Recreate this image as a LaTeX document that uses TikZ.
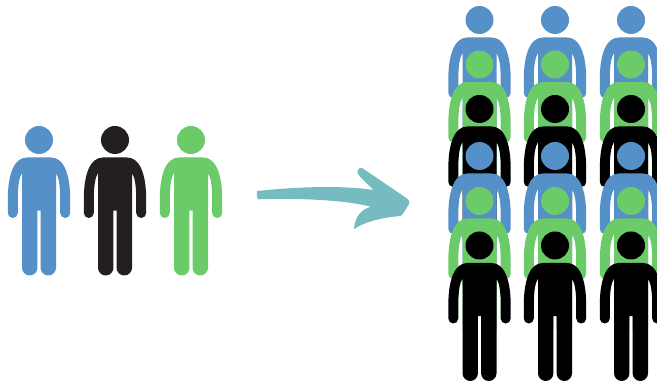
\documentclass[tikz,border=0pt]{standalone}
\usepackage{tikz}
\definecolor{personblue}{HTML}{5590C8}
\definecolor{persongreen}{HTML}{6BCB69}
\definecolor{persondark}{HTML}{231F20}
\definecolor{arrowteal}{HTML}{76BBBF}
\tikzset{
    pics/person/.style={code={
        \fill[#1] (0,0) circle (14);
        \fill[#1] (-12,-17.5) -- (12,-17.5)
            .. controls (24,-17.5) and (31.2,-32) .. (31.2,-60)
            -- (31.2,-73) arc[start angle=0, end angle=-180, radius=5]
            -- (21.2,-60) .. controls (21.2,-46) and (20,-38) .. (17,-33)
            -- (17,-127.8) arc[start angle=0, end angle=-180, radius=7.7]
            -- (1.6,-70.7) -- (-1.6,-70.7)
            -- (-1.6,-127.8) arc[start angle=0, end angle=-180, radius=7.7]
            -- (-17,-33) .. controls (-20,-38) and (-21.2,-46) .. (-21.2,-60)
            -- (-21.2,-73) arc[start angle=0, end angle=-180, radius=5]
            -- (-31.2,-60) .. controls (-31.2,-32) and (-24,-17.5) .. (-12,-17.5) -- cycle;
    }}
}
\begin{document}
\begin{tikzpicture}[x=0.75pt, y=0.75pt]
    \useasboundingbox (0,0) rectangle (657,384);
    \clip (0,0) rectangle (657,384);

    \pic at (39,244) {person=personblue};
    \pic at (115,244) {person=persondark};
    \pic at (191,244) {person=persongreen};

    \foreach \colx in {479.5,555,631} {
        \foreach \rowy/\rowcol in {364/personblue,319.5/persongreen,275/black,228/personblue,183/persongreen,138.5/black} {
            \pic at (\colx,\rowy) {person=\rowcol};
        }
    }

    \fill[arrowteal] (257.3,193)
        .. controls (295,197) and (340,199) .. (373.3,194)
        -- (360,207.3) .. controls (356,211) and (357,216) .. (361.7,216.3)
        -- (406.7,185.7) .. controls (409.5,183.5) and (410,181.5) .. (409,180)
        -- (403.3,170.7) .. controls (402,168.5) and (401,168) .. (400,168)
        .. controls (380,166) and (364,162) .. (354,154.7)
        .. controls (355,168) and (361,174) .. (370.7,177.3)
        .. controls (345,184) and (300,186) .. (258.3,184.7)
        .. controls (256.5,186) and (256.5,191) .. (257.3,193) -- cycle;
\end{tikzpicture}
\end{document}
